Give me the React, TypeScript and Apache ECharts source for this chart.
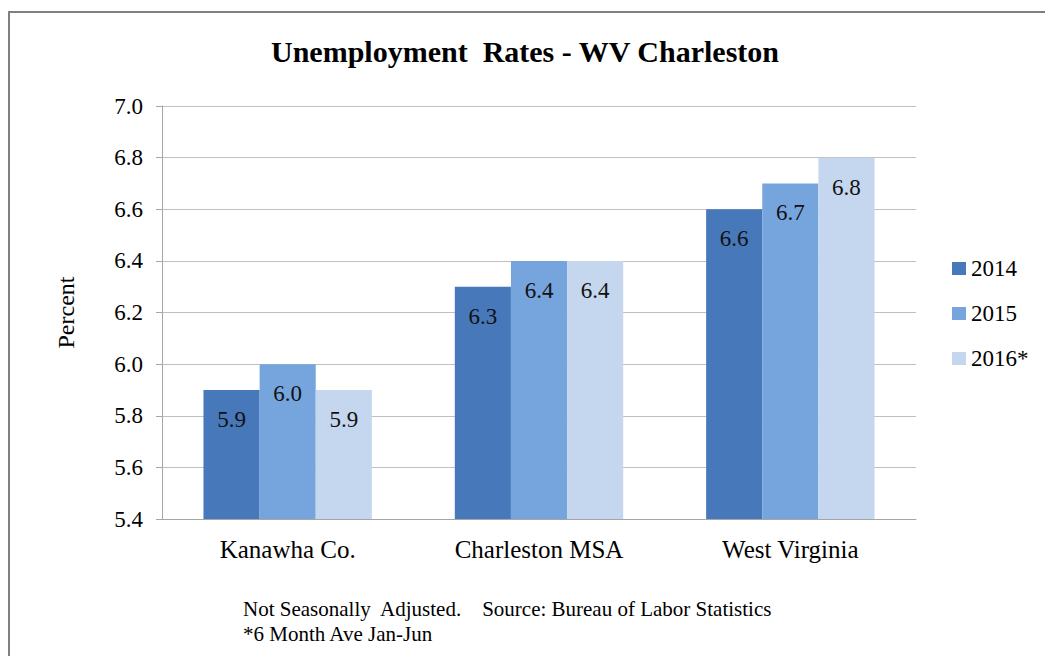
import React, { useEffect, useRef } from "react";
import * as echarts from "echarts";

const categories = ["Kanawha Co.", "Charleston MSA", "West Virginia"];
const seriesNames = ["2014", "2015", "2016*"];
const values2014 = [5.9, 6.3, 6.6];
const values2015 = [6.0, 6.4, 6.7];
const values2016 = [5.9, 6.4, 6.8];
const colors = ["#4778b9", "#76a5dd", "#c5d7ef"];

const FONT = "'Liberation Serif', 'Times New Roman', serif";

export default function App() {
  const ref = useRef<HTMLDivElement>(null);
  useEffect(() => {
    document.body.style.margin = "0";
    const chart = echarts.init(ref.current!, null, { renderer: "svg" });
    const data = [values2014, values2015, values2016];
    chart.setOption({
      animation: false,
      backgroundColor: "#ffffff",
      title: {
        text: "Unemployment  Rates - WV Charleston",
        left: 520,
        textAlign: "center",
        top: 31,
        textStyle: { fontFamily: FONT, fontSize: 30, fontWeight: "bold", color: "#000" },
      },
      graphic: [
        {
          type: "rect",
          shape: { x: 9, y: 12, width: 1100, height: 700 },
          style: { fill: "none", stroke: "#808080", lineWidth: 2 },
          silent: true,
        },
        {
          type: "text",
          left: 243,
          top: 596,
          style: {
            text: "Not Seasonally  Adjusted.    Source: Bureau of Labor Statistics\n*6 Month Ave Jan-Jun",
            font: "21px " + FONT,
            fill: "#000",
            lineHeight: 25,
          },
        },
      ],
      legend: {
        orient: "vertical",
        left: 947,
        top: 252,
        itemWidth: 14,
        itemHeight: 13,
        itemGap: 22,
        icon: "rect",
        textStyle: { fontFamily: FONT, fontSize: 23, color: "#000" },
        data: seriesNames,
      },
      grid: { left: 162, right: 129, top: 106, bottom: 137 },
      xAxis: {
        type: "category",
        data: categories,
        axisLine: { lineStyle: { color: "#a6a6a6" } },
        axisTick: { show: false },
        axisLabel: { fontFamily: FONT, fontSize: 25, color: "#000", margin: 18 },
      },
      yAxis: {
        type: "value",
        min: 5.4,
        max: 7.0,
        interval: 0.2,
        name: "Percent",
        nameLocation: "middle",
        nameGap: 84,
        nameTextStyle: { fontFamily: FONT, fontSize: 24, color: "#000" },
        axisLine: { show: true, lineStyle: { color: "#a6a6a6" } },
        axisTick: { show: true, length: 6, lineStyle: { color: "#a6a6a6" } },
        splitLine: { lineStyle: { color: "#c0c0c0" } },
        axisLabel: {
          fontFamily: FONT,
          fontSize: 23,
          color: "#000",
          margin: 19,
          formatter: (v: number) => v.toFixed(1),
        },
      },
      series: seriesNames.map((name, i) => ({
        name,
        type: "bar",
        data: data[i],
        barGap: "0%",
        barCategoryGap: "33%",
        itemStyle: { color: colors[i] },
        label: {
          show: true,
          position: "insideTop",
          distance: 18,
          fontFamily: FONT,
          fontSize: 23,
          color: "#111",
          formatter: (p: any) => Number(p.value).toFixed(1),
        },
      })),
    });
    return () => chart.dispose();
  }, []);
  return <div ref={ref} style={{ width: 1045, height: 656 }} />;
}
